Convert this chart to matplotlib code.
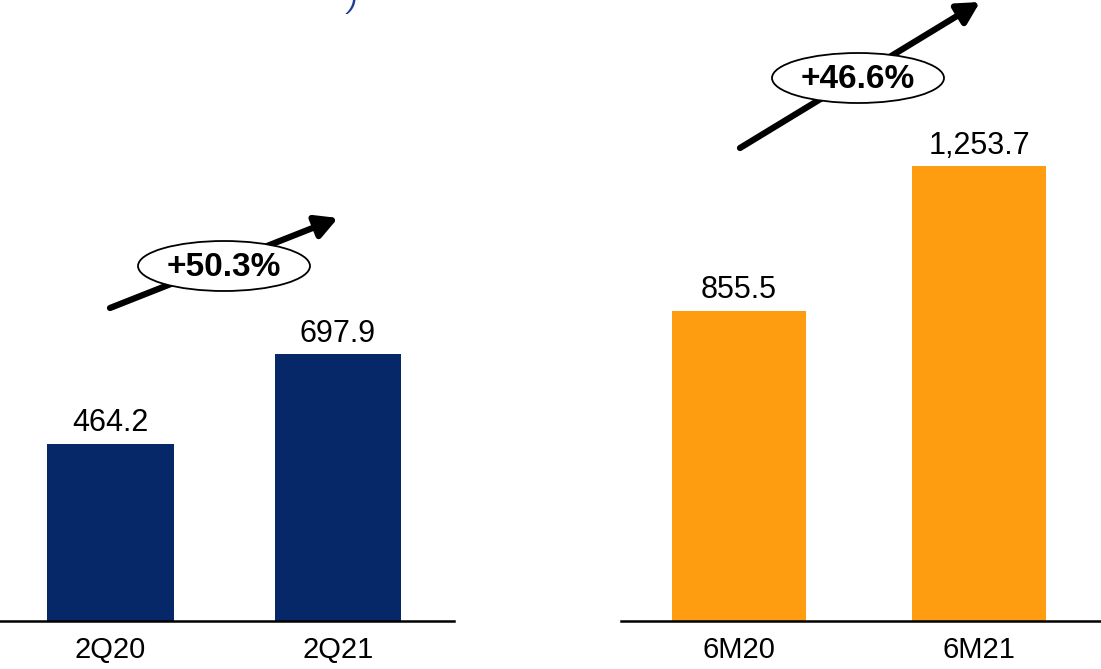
import matplotlib
matplotlib.use("Agg")
import matplotlib.pyplot as plt
from matplotlib.patches import Ellipse, FancyArrowPatch

plt.rcParams['font.family'] = ['Liberation Sans', 'DejaVu Sans']

# quarter comparison
q_labels = ['2Q20', '2Q21']
q_values = [464.2, 697.9]
q_growth = '+50.3%'

# half-year comparison
h_labels = ['6M20', '6M21']
h_values = [855.5, 1253.7]
h_growth = '+46.6%'

NAVY = '#072868'
ORANGE = '#FF9D10'

W, H = 1101, 669
fig = plt.figure(figsize=(W / 100, H / 100), dpi=100)

base = 1 - 621 / H


def bar_panel(rect, labels, values, color, xlim, ylim_top, width):
    ax = fig.add_axes(rect)
    x = range(len(values))
    bars = ax.bar(x, values, width=width, color=color, zorder=2)
    ax.set_xlim(*xlim)
    ax.set_ylim(0, ylim_top)
    ax.set_xticks(list(x))
    ax.set_xticklabels(labels, fontsize=21)
    ax.tick_params(axis='x', length=0, pad=11)
    ax.set_yticks([])
    for s in ['top', 'left', 'right']:
        ax.spines[s].set_visible(False)
    ax.spines['bottom'].set_linewidth(1.8)
    ax.spines['bottom'].set_color('black')
    for b, v in zip(bars, values):
        ax.annotate(f'{v:,.1f}', (b.get_x() + b.get_width() / 2, v),
                    xytext=(0, 4), textcoords='offset points',
                    ha='center', va='bottom', fontsize=22)
    return ax


bar_panel([0, base, 454 / W, 1 - base], q_labels, q_values, NAVY,
          (-0.486, 1.51), 621 / 0.382, 0.558)
bar_panel([621 / W, base, 480 / W, 1 - base], h_labels, h_values, ORANGE,
          (-0.492, 1.508), 621 / 0.3627, 0.555)


def growth_badge(start, end, center, text):
    # pixel positions -> figure fractions
    p0 = (start[0] / W, 1 - start[1] / H)
    p1 = (end[0] / W, 1 - end[1] / H)
    arrow = FancyArrowPatch(p0, p1, transform=fig.transFigure,
                            arrowstyle='-|>,head_length=13,head_width=7',
                            lw=4.5, color='black', mutation_scale=1,
                            shrinkA=0, shrinkB=0)
    fig.add_artist(arrow)
    c = (center[0] / W, 1 - center[1] / H)
    ell = Ellipse(c, 172 / W, 50 / H, transform=fig.transFigure,
                  facecolor='white', edgecolor='black', lw=1.3, zorder=5)
    fig.add_artist(ell)
    fig.text(c[0], c[1] - 0.002, text, ha='center', va='center', fontsize=24,
             fontweight='bold', zorder=6)


growth_badge((110, 308), (338, 218), (224, 266), q_growth)
growth_badge((740, 148), (980, 2), (858, 78), h_growth)

# title remnant along the top edge
fig.text(352 / W, 1 - 1 / H, ')', color='#1F3F93', fontsize=20,
         ha='center', va='center', style='italic')

fig.savefig('out.png', dpi=100)
